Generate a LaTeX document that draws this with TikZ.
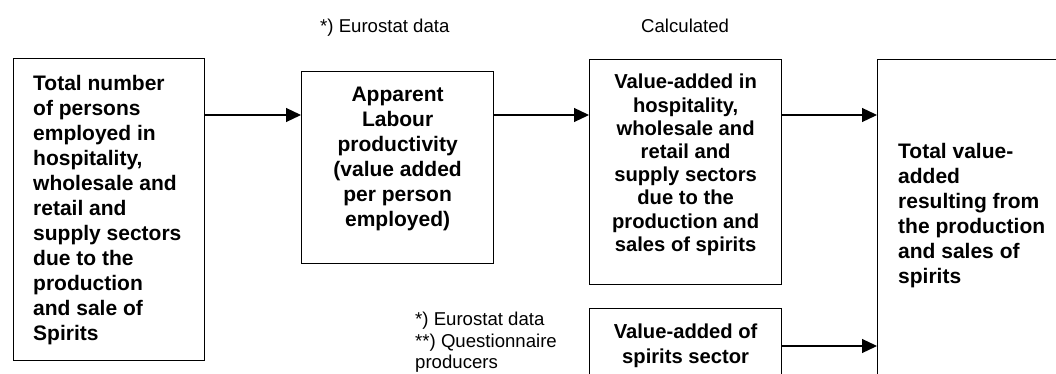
\documentclass[tikz,border=0pt]{standalone}
\usepackage{fontspec}
\setmainfont{Liberation Sans}
\usetikzlibrary{arrows.meta, positioning}

\begin{document}
\begin{tikzpicture}[x=1pt, y=-1pt,
        box/.style={draw, line width=1.2pt, anchor=north west, inner sep=0pt},
        boxtext/.style={inner sep=0pt, font=\fontsize{21}{25}\selectfont\bfseries},
        smalltext/.style={inner sep=0pt, font=\fontsize{20.2}{23.2}\selectfont\bfseries},
        note/.style={inner sep=0pt, anchor=north west, align=left, font=\fontsize{18.6}{21.5}\selectfont},
        flow/.style={-{Triangle[length=15pt, width=14pt]}, line width=1.2pt}]
                \useasboundingbox (0,0) rectangle (1056,374);
                \clip (0,0) rectangle (1056,374);

                \node[box, minimum width=191pt, minimum height=302pt] (persons) at (13,58) {};
                \node[box, minimum width=192pt, minimum height=192pt] (productivity) at (301,71) {};
                \node[box, minimum width=192pt, minimum height=225pt] (hospitality) at (589,59) {};
                \node[box, minimum width=192pt, minimum height=110pt] (sector) at (589,308) {};
                \node[box, minimum width=260pt, minimum height=400pt] (total) at (877,59) {};

                \node[boxtext, align=left, below right=17pt and 20pt of persons.north west] (personstext)
                    {Total number\\of persons\\employed in\\hospitality,\\wholesale and\\retail and\\supply sectors\\due to the\\production\\and sale of\\Spirits};
                \node[boxtext, align=center, below=16pt of productivity.north] (productivitytext)
                    {Apparent\\Labour\\productivity\\(value added\\per person\\employed)};
                \node[smalltext, align=center, below=15pt of hospitality.north] (hospitalitytext)
                    {Value-added in\\hospitality,\\wholesale and\\retail and\\supply sectors\\due to the\\production and\\sales of spirits};
                \node[smalltext, align=center, below=16pt of sector.north, font=\fontsize{20.2}{25}\selectfont\bfseries] (sectortext)
                    {Value-added of\\spirits sector};
                \node[boxtext, align=left, below right=84pt and 21pt of total.north west] (totaltext)
                    {Total value-\\added\\resulting from\\the production\\and sales of\\spirits};

                \node[note] (eurostat) at (320,19) {*) Eurostat data};
                \node[note] (calculated) at (641,19) {Calculated};
                \node[note] (sources) at (415,312) {*) Eurostat data\\**) Questionnaire\\producers};

                \coordinate (upper) at (0,115);
                \coordinate (lower) at (0,346);
                \draw[flow] (persons.east |- upper) -- (productivity.west |- upper);
                \draw[flow] (productivity.east |- upper) -- (hospitality.west |- upper);
                \draw[flow] (hospitality.east |- upper) -- (total.west |- upper);
                \draw[flow] (sector.east |- lower) -- (total.west |- lower);
            \end{tikzpicture}
\end{document}
